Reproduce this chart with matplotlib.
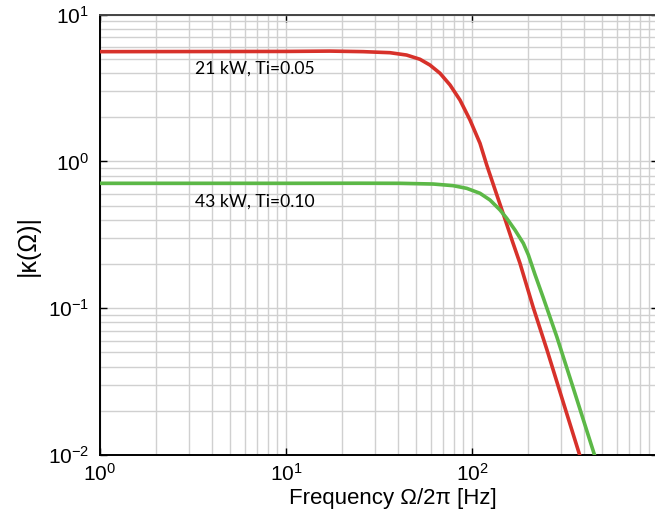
import matplotlib
matplotlib.use("Agg")
import matplotlib.pyplot as plt
from matplotlib.ticker import LogLocator, NullFormatter, LogFormatterSciNotation, FuncFormatter

plt.rcParams["font.family"] = ["Liberation Sans", "DejaVu Sans"]

# 21 kW, Ti=0.05 (red)
red_f = [1, 10, 17.2, 26.0, 36.2, 44.5, 52.5, 59.4, 67.3, 76.2, 86.2, 97.5, 110.4, 120,
         130, 150, 165, 181, 213, 253, 297, 381]
red_v = [5.6, 5.62, 5.65, 5.6, 5.51, 5.31, 4.97, 4.54, 3.99, 3.32, 2.62, 1.92, 1.33, 0.946,
         0.70, 0.41, 0.285, 0.203, 0.102, 0.052, 0.027, 0.0098]
# 43 kW, Ti=0.10 (green)
grn_f = [1, 10, 25, 41.0, 61.9, 79.3, 93.7, 110.4, 125, 141.5, 153.7, 170.3, 188.8, 200.9,
         218, 241, 286, 349, 458]
grn_v = [0.71, 0.71, 0.711, 0.71, 0.702, 0.684, 0.656, 0.607, 0.546, 0.467, 0.41, 0.341,
         0.277, 0.231, 0.17, 0.119, 0.0637, 0.029, 0.0098]

labels = ["21 kW, Ti=0.05", "43 kW, Ti=0.10"]
label_pos = [(3.25, 3.94), (3.25, 0.492)]

red, green = "#d7312a", "#5cb847"
grid_c = "#d0d0d0"

fig = plt.figure(figsize=(6.55, 5.22), dpi=100)
ax = fig.add_axes([100 / 655, 67 / 522, 558 / 655, 440.3 / 522])

ax.plot(red_f, red_v, color=red, lw=2.6, solid_capstyle="butt", zorder=3)
ax.plot(grn_f, grn_v, color=green, lw=2.6, solid_capstyle="butt", zorder=3)

ax.set_xscale("log")
ax.set_yscale("log")
ax.set_xlim(1, 1000)
ax.set_ylim(0.01, 10)

ax.xaxis.set_major_locator(LogLocator(base=10, numticks=10))
ax.yaxis.set_major_locator(LogLocator(base=10, numticks=10))
ax.xaxis.set_minor_locator(LogLocator(base=10, subs=range(2, 10), numticks=20))
ax.yaxis.set_minor_locator(LogLocator(base=10, subs=range(2, 10), numticks=20))
ax.xaxis.set_minor_formatter(NullFormatter())
ax.yaxis.set_minor_formatter(NullFormatter())
_sci = LogFormatterSciNotation()
ax.xaxis.set_major_formatter(FuncFormatter(lambda v, p: "" if v >= 999 else _sci(v, p)))

ax.grid(True, which="both", color=grid_c, lw=1.0)
ax.set_axisbelow(True)
ax.tick_params(which="major", direction="in", length=5, width=1, labelsize=15,
               top=True, right=True)
ax.tick_params(axis="x", pad=6)
ax.tick_params(axis="y", pad=8)
ax.tick_params(which="minor", length=0)
for s in ax.spines.values():
    s.set_linewidth(1.4)
    s.set_color("black")
ax.spines["top"].set_color("#444444")

for (x, y), t in zip(label_pos, labels):
    ax.text(x, y, t, fontsize=12.6, family=["Lato", "DejaVu Sans"],
            ha="left", va="baseline")

ax.set_xlabel("Frequency Ω/2π [Hz]", fontsize=16)
ax.xaxis.set_label_coords(293 / 558, -33 / 440.3)
ax.set_ylabel("|κ(Ω)|", fontsize=18)
ax.yaxis.set_label_coords(-60 / 558, 210 / 440.3)

fig.savefig("out.png", dpi=100)
